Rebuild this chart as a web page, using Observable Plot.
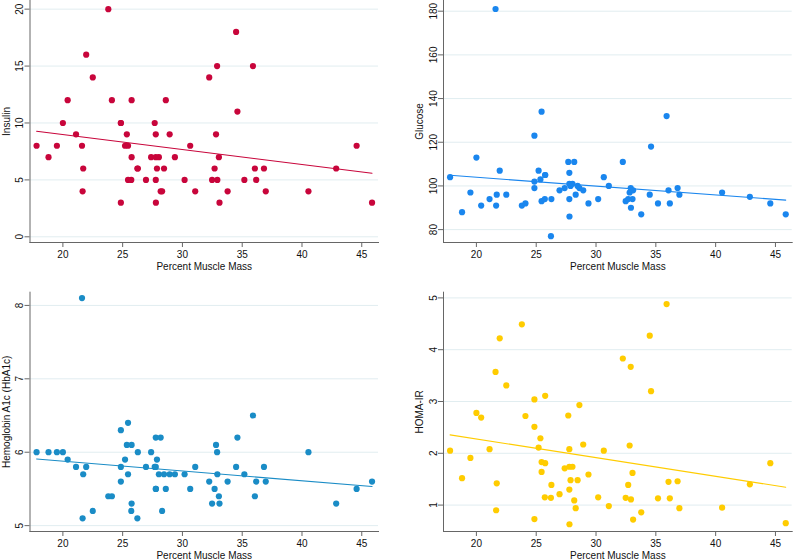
<!DOCTYPE html>
<html>
<head>
<meta charset="utf-8">
<script src="https://cdn.jsdelivr.net/npm/d3@7"></script>
<script src="https://cdn.jsdelivr.net/npm/@observablehq/plot@0.6"></script>
<style>
  html, body { margin: 0; padding: 0; background: #fff; }
  #wrap { position: relative; width: 800px; height: 560px; overflow: hidden; background: #fff; }
  #wrap > div { position: absolute; width: 400px; height: 280px; }
</style>
</head>
<body>
<div id="wrap">
  <div id="p1" style="left:0;top:0"></div>
  <div id="p2" style="left:400px;top:0"></div>
  <div id="p3" style="left:0;top:280px"></div>
  <div id="p4" style="left:400px;top:280px"></div>
</div>
<script>
// Percent muscle mass (shared x for all four panels)
const muscle = [17.8, 18.8, 19.5, 20.0, 20.4, 21.1, 21.6, 21.7, 21.65, 21.95, 22.5, 23.8, 24.1,
  24.85, 24.85, 24.85, 25.2, 25.35, 25.45, 25.45, 25.75, 25.75, 25.72, 26.27, 26.23, 26.95, 27.38,
  27.68, 27.77, 27.77, 27.77, 27.78, 27.87, 28.03, 28.18, 28.3, 28.46, 28.61, 28.93, 29.37, 30.18,
  30.65, 31.07, 32.24, 32.48, 32.69, 32.81, 32.9, 32.92, 33.05, 33.1, 33.78, 34.49, 34.6, 35.18,
  35.9, 36.06, 36.17, 36.82, 36.97, 40.54, 42.86, 44.57, 45.86];
const insulin = [8, 7, 8, 10, 12, 9, 8, 6, 4, 16, 14, 20, 12, 10, 10, 3, 8, 9, 8, 5, 7, 12, 5, 6, 6,
  5, 7, 10, 9, 7, 5, 3, 6, 7, 4, 4, 6, 12, 9, 7, 5, 8, 4, 14, 5, 6, 9, 15, 5, 7, 3, 4, 18, 11, 5,
  15, 6, 5, 6, 4, 4, 6, 8, 3];
const glucose = [104, 88, 97, 113, 91, 94, 181, 96, 91, 107, 96, 91, 92, 123, 102, 99, 107, 103, 93,
  134, 105, 105, 94, 94, 77, 98, 99, 111, 94, 101, 106, 86, 100, 101, 111, 96, 100, 99, 98, 92, 94,
  104, 100, 111, 93, 94, 97, 99, 90, 94, 98, 87, 96, 118, 92, 132, 98, 92, 99, 96, 97, 95, 92, 87];
const hba1c = [6.0, 6.0, 6.0, 6.0, 5.9, 5.8, 8.1, 5.7, 5.1, 5.8, 5.2, 5.4, 5.4, 6.3, 5.8, 5.6, 5.9,
  6.1, 6.4, 5.7, 6.1, 5.3, 5.2, 6.0, 5.1, 5.8, 6.0, 5.8, 6.2, 5.8, 5.5, 5.5, 5.9, 5.7, 6.2, 5.2, 5.7,
  5.5, 5.7, 5.7, 5.7, 5.5, 5.8, 5.6, 5.3, 5.5, 6.1, 6.0, 5.7, 5.4, 5.3, 5.6, 5.8, 6.2, 5.7, 6.5, 5.4,
  5.6, 5.8, 5.6, 6.0, 5.3, 5.5, 5.6];
const homa = [2.05, 1.52, 1.91, 2.78, 2.69, 2.08, 3.57, 1.42, 0.90, 4.22, 3.31, 4.49, 2.72, 3.04, 2.51,
  0.73, 2.11, 2.29, 1.83, 1.64, 1.81, 3.11, 1.15, 1.39, 1.14, 1.21, 1.71, 2.73, 2.08, 1.74, 1.30, 0.63,
  1.48, 1.74, 1.09, 0.94, 1.48, 2.93, 2.17, 1.59, 1.15, 2.05, 0.98, 3.83, 1.14, 1.39, 2.15, 3.67, 1.11,
  1.62, 0.72, 0.86, 4.27, 3.20, 1.13, 4.88, 1.45, 1.13, 1.46, 0.94, 0.95, 1.40, 1.81, 0.65];

const xTicks = [20, 25, 30, 35, 40, 45];
const xDomain = [17.25, 46.4];
const xTitle = "Percent Muscle Mass";

const panels = [
  {id: "p1", title: "Insulin", values: insulin, color: "#c8053b", yTicks: [0, 5, 10, 15, 20], yDomain: [-0.5, 20.76], top: true, left: 29.5, right: 22},
  {id: "p2", title: "Glucose", values: glucose, color: "#1a86ee", yTicks: [80, 100, 120, 140, 160, 180], yDomain: [74.1, 184.9], top: true, left: 43, right: 8.3},
  {id: "p3", title: "Hemoglobin A1c (HbA1c)", values: hba1c, color: "#1a8cc6", yTicks: [5, 6, 7, 8], yDomain: [4.92, 8.18], top: false, left: 29.5, right: 22},
  {id: "p4", title: "HOMA-IR", values: homa, color: "#ffcc00", yTicks: [1, 2, 3, 4, 5], yDomain: [0.49, 5.11], top: false, left: 43, right: 8.3}
];

const fmt = d => String(d);

for (const p of panels) {
  const data = muscle.map((x, i) => ({x, y: p.values[i]}));
  const chart = Plot.plot({
    width: 400,
    height: 280,
    marginLeft: p.left,
    marginRight: p.right,
    marginTop: p.top ? 0 : 11.7,
    marginBottom: p.top ? 38 : 29,
    style: {fontFamily: "'Liberation Sans', Arial, sans-serif", fontSize: "10px", color: "#111", background: "#fff", overflow: "visible"},
    x: {domain: xDomain},
    y: {domain: p.yDomain},
    marks: [
      Plot.gridY(p.yTicks, {stroke: "#e1edf0", strokeOpacity: 1, strokeWidth: 1}),
      Plot.axisY(p.yTicks, {tickRotate: -90, tickSize: 5, tickPadding: 2, tickFormat: fmt, stroke: "#666", label: p.title, labelAnchor: "center", labelOffset: 27.5, labelArrow: "none", fill: "#111"}),
      Plot.axisX(xTicks, {tickSize: 5, tickPadding: 3, tickFormat: fmt, stroke: "#666", label: xTitle, labelAnchor: "center", labelOffset: 27, labelArrow: "none", fill: "#111"}),
      Plot.frame({anchor: "left", stroke: "#666"}),
      Plot.frame({anchor: "bottom", stroke: "#666"}),
      Plot.linearRegressionY(data, {x: "x", y: "y", stroke: p.color, strokeWidth: 1.1, ci: 0}),
      Plot.dot(data, {x: "x", y: "y", r: 3.1, fill: p.color, stroke: "none"})
    ]
  });
  document.getElementById(p.id).appendChild(chart);
}
</script>
</body>
</html>
